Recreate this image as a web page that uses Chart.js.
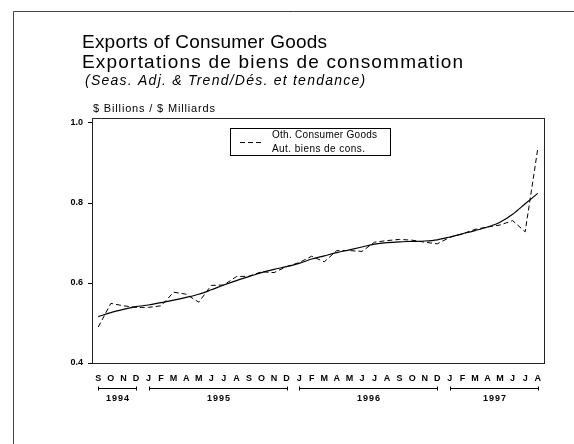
<!DOCTYPE html>
<html>
<head>
<meta charset="utf-8">
<script src="https://cdn.jsdelivr.net/npm/chart.js@4.4.1/dist/chart.umd.min.js"></script>
<style>
  html, body { margin: 0; padding: 0; background: #fff; }
  #wrap { width: 574px; height: 444px; }
</style>
</head>
<body>
<div id="wrap"><canvas id="myChart" width="574" height="444"></canvas></div>
<script>
// months Sep 1994 .. Aug 1997
const categories = [
  'Sep 1994', 'Oct 1994', 'Nov 1994', 'Dec 1994',
  'Jan 1995', 'Feb 1995', 'Mar 1995', 'Apr 1995', 'May 1995', 'Jun 1995',
  'Jul 1995', 'Aug 1995', 'Sep 1995', 'Oct 1995', 'Nov 1995', 'Dec 1995',
  'Jan 1996', 'Feb 1996', 'Mar 1996', 'Apr 1996', 'May 1996', 'Jun 1996',
  'Jul 1996', 'Aug 1996', 'Sep 1996', 'Oct 1996', 'Nov 1996', 'Dec 1996',
  'Jan 1997', 'Feb 1997', 'Mar 1997', 'Apr 1997', 'May 1997', 'Jun 1997',
  'Jul 1997', 'Aug 1997'
];

const monthLetters = ['J', 'F', 'M', 'A', 'M', 'J', 'J', 'A', 'S', 'O', 'N', 'D'];
const monthNames = ['Jan', 'Feb', 'Mar', 'Apr', 'May', 'Jun', 'Jul', 'Aug', 'Sep', 'Oct', 'Nov', 'Dec'];

// seasonally adjusted (dashed)
const seasAdj = [
  0.490, 0.549, 0.543, 0.539,
  0.539, 0.543, 0.577, 0.572, 0.552, 0.594, 0.595, 0.616, 0.617, 0.628, 0.626, 0.641,
  0.651, 0.667, 0.653, 0.681, 0.681, 0.679, 0.702, 0.706, 0.709, 0.707, 0.702, 0.698,
  0.714, 0.723, 0.734, 0.740, 0.745, 0.756, 0.728, 0.935
];

// trend (solid)
const trend = [
  0.516, 0.526, 0.534, 0.541,
  0.545, 0.551, 0.557, 0.564, 0.572, 0.583, 0.595, 0.606, 0.616, 0.626, 0.634, 0.641,
  0.649, 0.660, 0.668, 0.676, 0.683, 0.690, 0.697, 0.701, 0.703, 0.704, 0.705, 0.708,
  0.715, 0.723, 0.731, 0.740, 0.752, 0.772, 0.798, 0.824
];

const yTicks = [0.4, 0.6, 0.8, 1.0];

const titleLines = ['Exports of Consumer Goods', 'Exportations de biens de consommation'];
const subTitle = '(Seas. Adj. & Trend/Dés. et tendance)';
const unitLabel = '$ Billions / $ Milliards';
const legendLines = ['Oth. Consumer Goods', 'Aut. biens de cons.'];

const FONT = '"Liberation Sans", Arial, Helvetica, sans-serif';

// group category indexes by year for the brackets under the axis
function yearGroups() {
  const groups = [];
  categories.forEach((c, i) => {
    const yr = c.split(' ')[1];
    const last = groups[groups.length - 1];
    if (last && last.year === yr) last.end = i;
    else groups.push({ year: yr, start: i, end: i });
  });
  return groups;
}

// draw text stretched with letter spacing so it spans a given width
function spacedText(ctx, text, x, y, width) {
  ctx.letterSpacing = '0px';
  const w = ctx.measureText(text).width;
  const sp = Math.max(0, (width - w) / (text.length - 1));
  ctx.letterSpacing = sp.toFixed(2) + 'px';
  ctx.fillText(text, x, y);
  ctx.letterSpacing = '0px';
}

const decor = {
  id: 'decor',
  beforeDraw(chart) {
    const ctx = chart.ctx;
    ctx.save();
    ctx.fillStyle = '#fff';
    ctx.fillRect(0, 0, chart.width, chart.height);
    // outer frame (top + left)
    ctx.strokeStyle = '#444';
    ctx.lineWidth = 1;
    ctx.beginPath();
    ctx.moveTo(13.5, chart.height);
    ctx.lineTo(13.5, 11.5);
    ctx.lineTo(chart.width, 11.5);
    ctx.stroke();

    ctx.fillStyle = '#000';
    ctx.textBaseline = 'middle';
    ctx.textAlign = 'left';
    ctx.font = '19px ' + FONT;
    spacedText(ctx, titleLines[0], 82, 43, 245);
    spacedText(ctx, titleLines[1], 82, 63, 381);
    ctx.font = 'italic 14px ' + FONT;
    spacedText(ctx, subTitle, 85, 81, 280);
    ctx.font = '11px ' + FONT;
    spacedText(ctx, unitLabel, 93, 109, 122);
    ctx.restore();
  },
  afterDraw(chart) {
    const ctx = chart.ctx;
    const a = chart.chartArea;
    const xs = chart.scales.x;
    ctx.save();
    // plot box
    ctx.strokeStyle = '#222';
    ctx.lineWidth = 1;
    ctx.strokeRect(Math.round(a.left) + 0.5, Math.round(a.top) + 0.5,
      Math.round(a.right - a.left), Math.round(a.bottom - a.top));

    // legend box
    ctx.strokeStyle = '#000';
    ctx.strokeRect(230.5, 128.5, 160, 27);
    ctx.setLineDash([5, 3]);
    ctx.beginPath();
    ctx.moveTo(240, 142.5);
    ctx.lineTo(262, 142.5);
    ctx.stroke();
    ctx.setLineDash([]);
    ctx.fillStyle = '#000';
    ctx.font = '10px ' + FONT;
    ctx.textBaseline = 'middle';
    ctx.textAlign = 'left';
    spacedText(ctx, legendLines[0], 272, 135.5, 105);
    spacedText(ctx, legendLines[1], 272, 149.5, 93);

    // year brackets
    const yLine = a.bottom + 25.5;
    ctx.lineWidth = 1;
    ctx.font = 'bold 9px ' + FONT;
    ctx.textAlign = 'center';
    ctx.letterSpacing = '1px';
    yearGroups().forEach(g => {
      const x0 = Math.round(xs.getPixelForValue(g.start)) + 0.5;
      const x1 = Math.round(xs.getPixelForValue(g.end)) + 0.5;
      ctx.beginPath();
      ctx.moveTo(x0, yLine);
      ctx.lineTo(x1, yLine);
      ctx.moveTo(x0, yLine - 2);
      ctx.lineTo(x0, yLine + 2);
      ctx.moveTo(x1, yLine - 2);
      ctx.lineTo(x1, yLine + 2);
      ctx.stroke();
      ctx.fillText(g.year, (x0 + x1) / 2 + 0.5, yLine + 10);
    });
    ctx.letterSpacing = '0px';
    ctx.restore();
  }
};

const data = {
  labels: categories,
  datasets: [
    {
      label: 'Trend',
      data: trend,
      borderColor: '#000',
      borderWidth: 1.2,
      pointRadius: 0,
      cubicInterpolationMode: 'monotone',
      fill: false
    },
    {
      label: legendLines[0],
      data: seasAdj,
      borderColor: '#000',
      borderWidth: 1,
      borderDash: [5, 3],
      pointRadius: 0,
      tension: 0,
      fill: false
    }
  ]
};

const config = {
  type: 'line',
  data: data,
  options: {
    responsive: false,
    animation: false,
    layout: { padding: { left: 0, top: 118, right: 30, bottom: 0 } },
    plugins: {
      legend: { display: false },
      tooltip: { enabled: false }
    },
    scales: {
      x: {
        type: 'category',
        offset: true,
        border: { display: false },
        grid: { display: false, drawTicks: false },
        ticks: {
          autoSkip: false,
          maxRotation: 0,
          padding: 10,
          color: '#000',
          font: { family: FONT, size: 9, weight: 'bold' },
          callback: function (v, i) {
            const m = categories[i].split(' ')[0];
            return monthLetters[monthNames.indexOf(m)];
          }
        },
        afterFit: s => { s.height = 81; }
      },
      y: {
        min: 0.4,
        max: 1.0125,
        border: { display: false },
        grid: { drawOnChartArea: false, drawTicks: true, tickLength: 4, color: '#000' },
        ticks: {
          padding: 5,
          color: '#000',
          font: { family: FONT, size: 9, weight: 'bold' },
          callback: v => v.toFixed(1)
        },
        afterBuildTicks: s => { s.ticks = yTicks.map(v => ({ value: v })); },
        afterFit: s => { s.width = 92; }
      }
    }
  },
  plugins: [decor]
};

const myChart = new Chart(document.getElementById('myChart'), config);
</script>
</body>
</html>
